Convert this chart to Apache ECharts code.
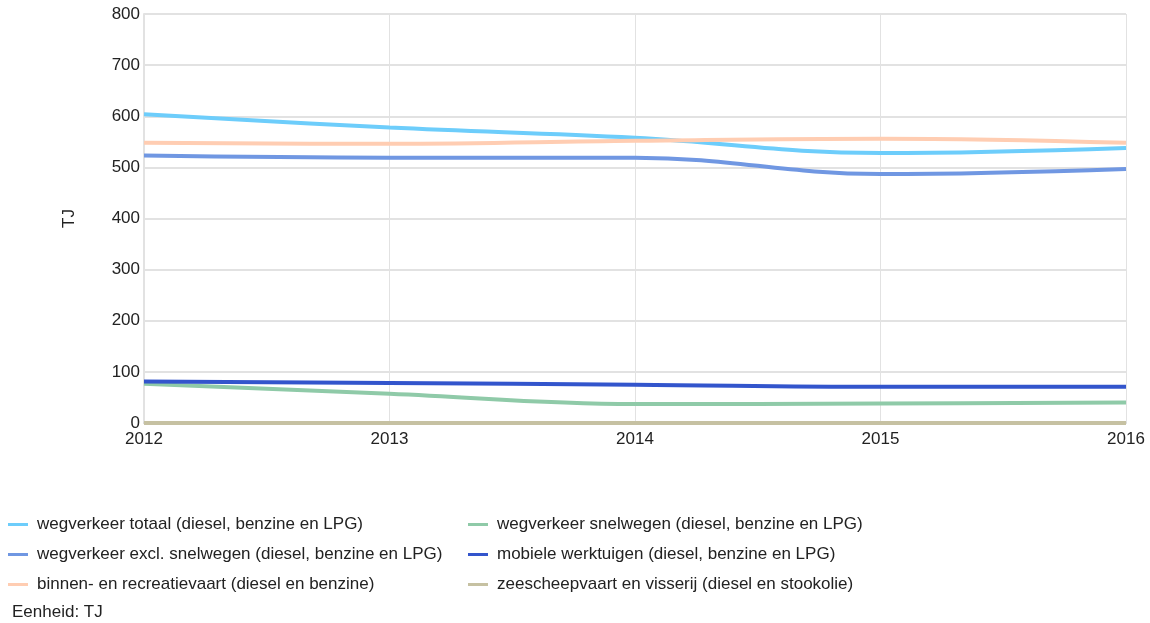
<!DOCTYPE html>
<html><head><meta charset="utf-8">
<script src="https://cdn.jsdelivr.net/npm/echarts@6/dist/echarts.min.js"></script>
<style>html,body{margin:0;padding:0;background:#fff}#c{width:1150px;height:623px}</style>
</head><body><div id="c"></div>
<script>
const years = ['2012','2013','2014','2015','2016'];
const names = [
  'wegverkeer totaal (diesel, benzine en LPG)',
  'wegverkeer snelwegen (diesel, benzine en LPG)',
  'wegverkeer excl. snelwegen (diesel, benzine en LPG)',
  'mobiele werktuigen (diesel, benzine en LPG)',
  'binnen- en recreatievaart (diesel en benzine)',
  'zeescheepvaart en visserij (diesel en stookolie)'
];
const wegTotaal = [604, 578, 558, 528, 538];
const wegSnel = [77, 57, 37, 38, 40];
const wegExcl = [523, 519, 519, 487, 497];
const mobiel = [81, 78, 75, 71, 71];
const binnen = [548, 546, 552, 556, 548];
const zee = [0, 0, 0, 0, 0];
const colors = ['#6dcdfb', '#8fcaa8', '#7097e2', '#3355cc', '#ffcdb2', '#c6c1a2'];
const seriesData = [wegTotaal, wegSnel, wegExcl, mobiel, binnen, zee];
const yTicks = [0, 100, 200, 300, 400, 500, 600, 700, 800];

const chart = echarts.init(document.getElementById('c'));
const font = 'Liberation Sans, Arial, sans-serif';
const FS = 17;
const legendBase = {
  orient: 'vertical', itemWidth: 20, itemHeight: 3, itemGap: 13, icon: 'rect',
  textStyle: {fontFamily: font, fontSize: FS, color: '#222', padding: [0,0,0,4]},
  selectedMode: false
};
chart.setOption({
  animation: false,
  color: colors,
  textStyle: {fontFamily: font},
  grid: {left: 144, right: 24, top: 14, bottom: 200, containLabel: false},
  legend: [
    Object.assign({left: 3, top: 511, data: [names[0], names[2], names[4]]}, legendBase),
    Object.assign({left: 463, top: 511, data: [names[1], names[3], names[5]]}, legendBase)
  ],
  graphic: [{type: 'text', left: 12, top: 604, style: {text: 'Eenheid: TJ', font: FS + 'px ' + font, fill: '#222'}}],
  xAxis: {
    type: 'category', data: years, boundaryGap: false,
    axisLine: {lineStyle: {color: '#d8d8d8', width: 2}},
    axisTick: {show: false},
    axisLabel: {color: '#222', fontSize: FS, margin: 8, fontFamily: font},
    splitLine: {show: true, lineStyle: {color: '#e2e2e2', width: 1}}
  },
  yAxis: {
    type: 'value', min: yTicks[0], max: yTicks[yTicks.length - 1], interval: 100,
    name: 'TJ', nameLocation: 'middle', nameGap: 66, nameRotate: 90,
    nameTextStyle: {color: '#222', fontSize: FS, fontFamily: font},
    axisLine: {show: true, lineStyle: {color: '#e2e2e2', width: 2}},
    axisTick: {show: false},
    axisLabel: {color: '#222', fontSize: FS, margin: 4, fontFamily: font},
    splitLine: {lineStyle: {color: '#e2e2e2', width: 2}}
  },
  series: seriesData.map((d, i) => ({
    name: names[i], type: 'line', data: d, smooth: 0.4, showSymbol: false, symbol: 'none',
    lineStyle: {width: 4, color: colors[i]}, itemStyle: {color: colors[i]},
    z: i === 5 ? 1 : 2
  }))
});
</script></body></html>
